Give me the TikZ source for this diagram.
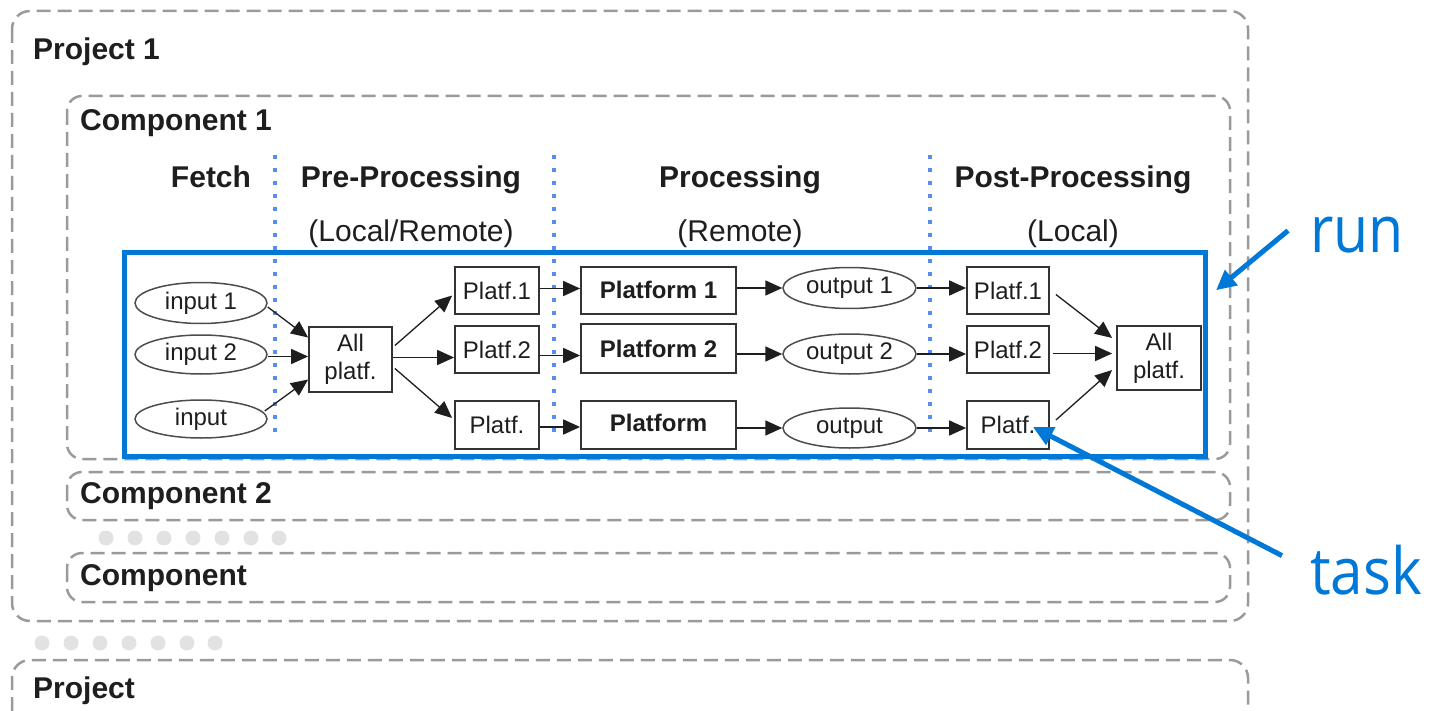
\documentclass[tikz,border=0pt]{standalone}
\usepackage{fontspec}
\setmainfont{Liberation Sans}
\newfontfamily\annfont{Open Sans}
\usetikzlibrary{arrows.meta,calc,shapes.geometric}
\definecolor{gdash}{HTML}{9A9A9A}
\definecolor{runblue}{HTML}{0078D7}
\definecolor{dotblue}{HTML}{5A8CF0}
\definecolor{dotgray}{HTML}{E2E2E2}
\definecolor{boxline}{HTML}{333333}
\definecolor{txt}{HTML}{1E1E1E}
\begin{document}
\begin{tikzpicture}[x=1pt,y=-1pt,
  grp/.style={draw=gdash, line width=2.5pt, dash pattern=on 14pt off 7pt, rounded corners=15pt},
  grplbl/.style={font=\fontsize{30}{36}\selectfont\bfseries, text=txt, inner sep=0pt, anchor=base west},
  title/.style={font=\fontsize{30}{36}\selectfont\bfseries, text=txt, inner sep=0pt, anchor=base},
  subt/.style={font=\fontsize{30}{36}\selectfont, text=txt, inner sep=0pt, anchor=base},
  sepline/.style={draw=dotblue, line width=3.5pt, dash pattern=on 4pt off 9pt},
  tbox/.style={draw=boxline, line width=1.8pt, font=\fontsize{24}{28}\selectfont, text=txt, inner sep=0pt, align=center, minimum width=84pt, minimum height=47pt},
  bbox/.style={tbox, font=\fontsize{24}{28}\selectfont\bfseries, minimum width=155pt},
  tell/.style={ellipse, draw=black!70, line width=1.5pt, font=\fontsize{24}{28}\selectfont, text=txt, inner sep=0pt, minimum width=132pt, minimum height=40pt},
  arr/.style={draw=txt, line width=1.7pt, -{Triangle[length=17pt,width=15pt]}},
  thinarr/.style={draw=txt, line width=1.3pt, -{Triangle[length=17pt,width=15pt]}},
  bluearr/.style={draw=runblue, line width=5pt, -{Triangle[length=20pt,width=19pt]}},
  ann/.style={font=\annfont\fontsize{65}{70}\selectfont, text=runblue, inner sep=0pt, anchor=base west}
]
\useasboundingbox (0,0) rectangle (1431,711);

% group frames
\draw[grp, rounded corners=18pt] (12,11) rectangle (1248,621);
\draw[grp] (67,96) rectangle (1230,459);
\draw[grp] (67,472) rectangle (1230,520);
\draw[grp] (67,553) rectangle (1230,602);
\draw[grp, rounded corners=18pt] (12,711) -- (12,660) -- (1248,660) -- (1248,711);

\node[grplbl] (p1) at (33,60) {Project 1};
\node[grplbl] (c1) at (80,131) {Component 1};
\node[grplbl] (c2) at (80,503) {Component 2};
\node[grplbl] (cn) at (80,585) {Component};
\node[grplbl] (pn) at (33,698) {Project};

% ellipsis dots
\foreach \x in {106,135,164,193,222,251,279} \fill[dotgray] (\x,538) circle[radius=7.5pt];
\foreach \x in {42,71,100,129,158,187,215} \fill[dotgray] (\x,643) circle[radius=7.5pt];

% headers
\node[title] (hf) at (211,188) {Fetch};
\node[title] (hpre) at (411,188) {Pre-Processing};
\node[title] (hpro) at (740,188) {Processing};
\node[title] (hpost) at (1073,188) {Post-Processing};
\node[subt] (spre) at (411,242) {(Local/Remote)};
\node[subt] (spro) at (740,242) {(Remote)};
\node[subt] (spost) at (1073,242) {(Local)};

% run rectangle
\node[draw=runblue, line width=5pt, minimum width=1081.5pt, minimum height=203.5pt, inner sep=0pt] (runbox) at (664.75,354.25) {};

% separators
\draw[sepline] (275,155) -- (275,432);
\draw[sepline] (554,155) -- (554,432);
\draw[sepline] (930,155) -- (930,432);

% nodes
\node[tell] (in1) at (201,303) [minimum height=41pt] {input 1};
\node[tell] (in2) at (201,354.5) [minimum height=39pt] {input 2};
\node[tell] (in3) at (201,419) [minimum height=38pt] {input};

\node[tbox, minimum width=83pt, minimum height=65pt] (allL) at (350.5,359.5) {All\\platf.};

\node[tbox] (pre1) at (497,290.5) {Platf.1};
\node[tbox] (pre2) at (497,349.5) {Platf.2};
\node[tbox, minimum height=48pt] (pre3) at (497,425) {Platf.};

\node[bbox] (plat1) at (658.5,290.5) {\raisebox{2pt}{Platform 1}};
\node[bbox, minimum height=49pt] (plat2) at (658.5,348.5) {Platform 2};
\node[bbox, minimum height=48pt] (plat3) at (658.5,425) {\raisebox{4pt}{Platform}};

\node[tell, minimum width=133pt, minimum height=41pt] (out1) at (849.5,288) {\raisebox{2pt}{output 1}};
\node[tell, minimum width=133pt] (out2) at (849.5,354) {output 2};
\node[tell, minimum width=133pt] (out3) at (849.5,428) {\raisebox{2pt}{output}};

\node[tbox, minimum width=82pt] (post1) at (1008,290.5) {Platf.1};
\node[tbox, minimum width=82pt] (post2) at (1008,349.5) {Platf.2};
\node[tbox, minimum width=82pt, minimum height=48pt] (post3) at (1008,425) {Platf.};

\node[tbox, minimum width=84pt, minimum height=64pt] (allR) at (1159,358) {All\\platf.};

% connectors
\draw[thinarr] ([yshift=-4pt]in1.east) -- ([yshift=22pt]allL.west);
\draw[arr] ([yshift=-2pt]in2.east) -- ([yshift=-2pt]in2.east -| allL.west);
\draw[thinarr] ([shift={(-3pt,8pt)}]in3.east) -- ([yshift=-20pt]allL.west);

\draw[thinarr] ([shift={(2pt,14pt)}]allL.east) -- ([shift={(-2pt,-5pt)}]pre1.west);
\draw[arr] ([yshift=2pt]allL.east) -- ([yshift=2pt]allL.east -| pre2.west);
\draw[thinarr] ([shift={(2pt,-9pt)}]allL.east) -- ([shift={(-2pt,7pt)}]pre3.west);

\draw[arr] ([yshift=2pt]pre1.east) -- ([yshift=2pt]pre1.east -| plat1.west);
\draw[arr] ([yshift=-6pt]pre2.east) -- ([yshift=-6pt]pre2.east -| plat2.west);
\draw[arr] ([yshift=-2pt]pre3.east) -- ([yshift=-2pt]pre3.east -| plat3.west);

\draw[arr] (plat1.east |- out1.west) -- (out1.west);
\draw[arr] (plat2.east |- out2.west) -- (out2.west);
\draw[arr] (plat3.east |- out3.west) -- (out3.west);

\draw[arr] (out1.east) -- (out1.east -| post1.west);
\draw[arr] (out2.east) -- (out2.east -| post2.west);
\draw[arr] (out3.east) -- (out3.east -| post3.west);

\draw[thinarr] ([shift={(6pt,-4pt)}]post1.east) -- ([shift={(-4pt,20pt)}]allR.west);
\draw[arr] ([shift={(3pt,-4pt)}]post2.east) -- ([shift={(-4pt,-4pt)}]post2.east -| allR.west);
\draw[thinarr] ([shift={(6pt,5pt)}]post3.east) -- ([shift={(-4pt,-12pt)}]allR.west);

% annotations
\node[ann] (runlbl) at (1310,253) {\scalebox{0.88}[1]{run}};
\node[ann] (tasklbl) at (1310,594) {\scalebox{0.9}[1]{task}};
\draw[bluearr] ([shift={(-22pt,5pt)}]runlbl.west) -- ([shift={(8pt,64pt)}]runbox.east);
\draw[bluearr] ([shift={(-28pt,14pt)}]tasklbl.west) -- ([shift={(25pt,-2pt)}]post3.center);
\end{tikzpicture}
\end{document}
